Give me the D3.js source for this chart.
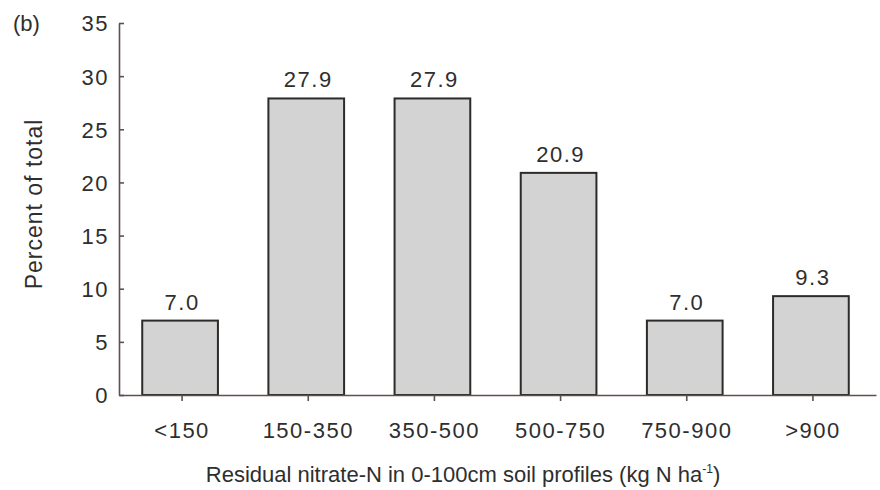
<!DOCTYPE html>
<html>
<head>
<meta charset="utf-8">
<script src="https://cdn.jsdelivr.net/npm/d3@7"></script>
<style>
  body { margin: 0; background: #fff; }
  text { font-family: "Liberation Sans", Arial, sans-serif; fill: #2e2e2e; }
</style>
</head>
<body>
<div id="chart"></div>
<script>
// data
const categories = ["<150", "150-350", "350-500", "500-750", "750-900", ">900"];
const percents = [7.0, 27.9, 27.9, 20.9, 7.0, 9.3];
const yTicks = [0, 5, 10, 15, 20, 25, 30, 35];

const svgWidth = 880, svgHeight = 490;
const margin = { top: 23, right: 4, bottom: 95, left: 119 };
const width = svgWidth - margin.left - margin.right;
const height = svgHeight - margin.top - margin.bottom;

const svg = d3.select("#chart").append("svg")
  .attr("width", svgWidth).attr("height", svgHeight);
const g = svg.append("g").attr("transform", "translate(" + margin.left + "," + margin.top + ")");

const x = d3.scaleBand().domain(categories).range([0, width]).paddingInner(0.4).paddingOuter(0.2);
const y = d3.scaleLinear().domain([0, 35]).range([height, 0]);

const axisColor = "#5b524e";

// bars
g.selectAll("rect.bar").data(percents).enter().append("rect")
  .attr("class", "bar")
  .attr("x", (d, i) => x(categories[i]) - 2)
  .attr("y", d => y(d))
  .attr("width", x.bandwidth())
  .attr("height", d => y(0) - y(d))
  .attr("fill", "#d3d3d3")
  .attr("stroke", "#2e2a28")
  .attr("stroke-width", 2);

// value labels
g.selectAll("text.val").data(percents).enter().append("text")
  .attr("class", "val")
  .attr("x", (d, i) => x(categories[i]) + x.bandwidth() / 2)
  .attr("y", d => y(d) - 11)
  .attr("text-anchor", "middle")
  .style("font-size", "22px")
  .style("letter-spacing", "1.5px")
  .text(d => d.toFixed(1));

// axes
const xAxis = g.append("g").attr("transform", "translate(0," + height + ")")
  .call(d3.axisBottom(x).tickSize(6).tickPadding(21).tickSizeOuter(0));
const yAxis = g.append("g")
  .call(d3.axisLeft(y).tickValues(yTicks).tickSize(-5).tickPadding(10).tickSizeOuter(0));

[xAxis, yAxis].forEach(a => {
  a.select(".domain").attr("stroke", axisColor).attr("stroke-width", 1.6);
  a.selectAll(".tick line").attr("stroke", axisColor).attr("stroke-width", 1.6);
  a.selectAll(".tick text").style("font-size", "22px").attr("fill", "#2e2e2e")
    .style("letter-spacing", "1.5px")
    .style("font-family", "'Liberation Sans', Arial, sans-serif");
});
xAxis.selectAll(".tick text").attr("dy", "0").attr("y", 43);
yAxis.selectAll(".tick text").attr("dy", "0.36em");

// axis titles
const xt = svg.append("text")
  .attr("x", 463)
  .attr("y", 482)
  .attr("text-anchor", "middle")
  .style("font-size", "22px");
xt.append("tspan").text("Residual nitrate-N in 0-100cm soil profiles (kg N ha");
xt.append("tspan").attr("dy", -9).style("font-size", "12px").text("-1");
xt.append("tspan").attr("dy", 9).text(")");

svg.append("text")
  .attr("transform", "translate(42,204) rotate(-90)")
  .attr("text-anchor", "middle")
  .style("font-size", "23px")
  .style("letter-spacing", "1px")
  .text("Percent of total");

svg.append("text")
  .attr("x", 13).attr("y", 31)
  .style("font-size", "22px")
  .text("(b)");
</script>
</body>
</html>
